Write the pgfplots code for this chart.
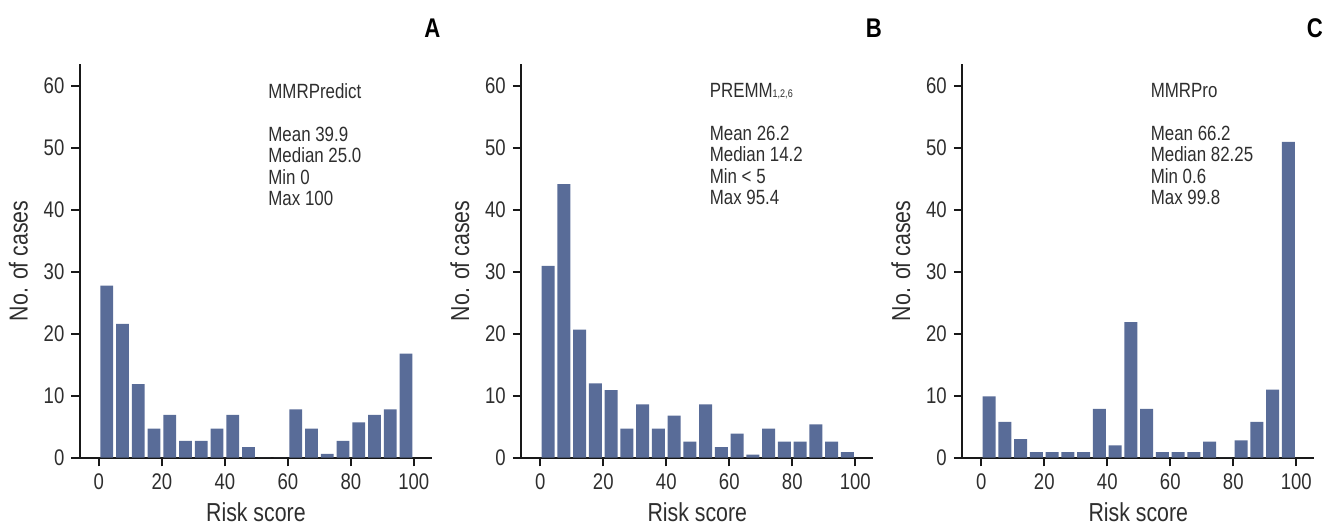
\documentclass[border=0pt]{standalone}
\usepackage{fontspec}
\setmainfont{Liberation Sans}[FakeStretch=0.82]
\usepackage{pgfplots}
\usepackage{pgfplotstable}
\pgfplotsset{compat=1.18}
\definecolor{barblue}{HTML}{596C98}
\definecolor{txtgray}{HTML}{2E2E2E}

% bins of width 5, centred on 2.5, 7.5, ...
\pgfplotstableread{
x     a     b     c
2.5   27.8  31.0  9.9
7.5   21.6  44.2  5.8
12.5  11.9  20.7  3.0
17.5  4.7   12.0  0.9
22.5  6.9   10.9  0.9
27.5  2.7   4.7   0.9
32.5  2.7   8.6   0.9
37.5  4.7   4.7   7.9
42.5  6.9   6.8   2.0
47.5  1.7   2.6   21.9
52.5  0     8.6   7.9
57.5  0     1.7   0.9
62.5  7.8   3.9   0.9
67.5  4.7   0.5   0.9
72.5  0.6   4.7   2.6
77.5  2.7   2.6   0
82.5  5.7   2.6   2.8
87.5  6.9   5.4   5.8
92.5  7.8   2.6   11.0
97.5  16.8  0.9   51.0
}\histdata

\pgfplotsset{
  histpanel/.style={
    scale only axis, width=175.9pt, height=196.9pt,
    anchor=south west,
    xmin=-6, xmax=105.7, ymin=0, ymax=63.6,
    axis lines*=left,
    axis line style={line width=1pt, black!90},
    x axis line style={shorten <=-4pt},
    xtick={0,20,...,100}, ytick={0,10,...,60},
    tick align=outside, major tick length=4.3pt,
    tick style={line width=1pt, black!90},
    /pgf/number format/assume math mode=true,
    tick label style={font=\fontsize{11.3}{13}\selectfont, text=txtgray},
    label style={font=\fontsize{13}{15}\selectfont, text=txtgray},
    xlabel={Risk score}, ylabel={No. of cases},
    ylabel style={yshift=1pt},
    clip=false,
  },
}
\tikzset{
  statbox/.style={anchor=north west, align=left, inner sep=0pt, text=txtgray,
    font=\fontsize{10.3}{10.7}\selectfont},
  panelletter/.style={anchor=base east, inner sep=0pt, xshift=4.5pt, yshift=13pt,
    font=\bfseries\fontsize{13.5}{15}\selectfont},
}

\begin{document}
\begin{tikzpicture}
\path[use as bounding box] (-40pt,-34.65pt) rectangle (621.5pt,228.85pt);

\begin{axis}[histpanel, at={(0pt,0pt)}]
\addplot[ybar, bar width=4.1, fill=barblue, draw=none] table[x=x, y=a] {\histdata};
\node[statbox] at (axis cs:53.7,60.5) {MMRPredict\\[10.7pt]Mean 39.9\\Median 25.0\\Min 0\\Max 100};
\node[panelletter] at (rel axis cs:1,1) {A};
\end{axis}

\begin{axis}[histpanel, at={(220.7pt,0pt)}]
\addplot[ybar, bar width=4.1, fill=barblue, draw=none] table[x=x, y=b] {\histdata};
\node[statbox] at (axis cs:53.7,60.5) {PREMM{\fontsize{5.5}{6}\selectfont 1,2,6}\\[10.7pt]Mean 26.2\\Median 14.2\\Min < 5\\Max 95.4};
\node[panelletter] at (rel axis cs:1,1) {B};
\end{axis}

\begin{axis}[histpanel, at={(441.2pt,0pt)}]
\addplot[ybar, bar width=4.1, fill=barblue, draw=none] table[x=x, y=c] {\histdata};
\node[statbox] at (axis cs:53.7,60.5) {MMRPro\\[10.7pt]Mean 66.2\\Median 82.25\\Min 0.6\\Max 99.8};
\node[panelletter] at (rel axis cs:1,1) {C};
\end{axis}
\end{tikzpicture}
\end{document}
